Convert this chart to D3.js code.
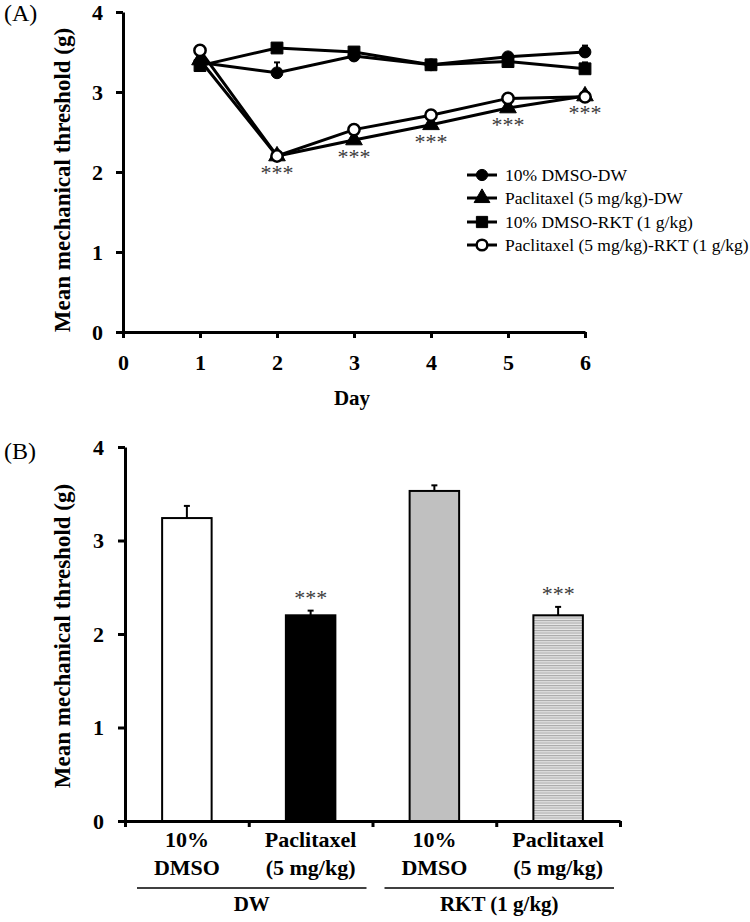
<!DOCTYPE html>
<html><head><meta charset="utf-8">
<script src="https://cdn.jsdelivr.net/npm/d3@7"></script>
<style>
body{margin:0;background:#fff;}
svg{display:block;font-family:"Liberation Serif","Times New Roman",serif;}
</style></head>
<body>
<svg id="chart" width="750" height="922"></svg>
<script>
// ---------- Panel A data ----------
const days = [1, 2, 3, 4, 5, 6];
const dmsoDW = [3.37, 3.24, 3.45, 3.34, 3.44, 3.50];
const dmsoDWErr = [0.03, 0.13, 0.03, 0.03, 0.03, 0.08];
const paclDW = [3.40, 2.20, 2.40, 2.59, 2.80, 2.95];
const paclDWErr = [0.03, 0.03, 0.03, 0.03, 0.03, 0.03];
const dmsoRKT = [3.33, 3.55, 3.50, 3.34, 3.38, 3.29];
const dmsoRKTErr = [0.03, 0.03, 0.03, 0.03, 0.03, 0.08];
const paclRKT = [3.52, 2.20, 2.53, 2.71, 2.92, 2.94];
const paclRKTErr = [0.03, 0.03, 0.03, 0.03, 0.03, 0.03];
const seriesNames = ["10% DMSO-DW", "Paclitaxel (5 mg/kg)-DW", "10% DMSO-RKT (1 g/kg)", "Paclitaxel (5 mg/kg)-RKT (1 g/kg)"];
const sigDays = [2, 3, 4, 5, 6];
const xTicksA = [0, 1, 2, 3, 4, 5, 6];
const yTicks = [0, 1, 2, 3, 4];

// ---------- Panel B data ----------
const barCats = [["10%", "DMSO"], ["Paclitaxel", "(5 mg/kg)"], ["10%", "DMSO"], ["Paclitaxel", "(5 mg/kg)"]];
const barValues = [3.24, 2.20, 3.53, 2.20];
const barErrors = [0.13, 0.05, 0.06, 0.09];
const barSig = [false, true, false, true];
const groupLabels = ["DW", "RKT (1 g/kg)"];

const svg = d3.select("#chart");
const defs = svg.append("defs");
const pat = defs.append("pattern").attr("id", "stripes").attr("patternUnits", "userSpaceOnUse")
  .attr("width", 8).attr("height", 2.5);
pat.append("rect").attr("width", 8).attr("height", 2.5).attr("fill", "#e8e8e8");
pat.append("rect").attr("width", 8).attr("height", 1.1).attr("fill", "#a8a8a8");

function styleAxis(g, sw, fs) {
  g.selectAll("path.domain").attr("stroke", "#000").attr("stroke-width", sw);
  g.selectAll(".tick line").attr("stroke", "#000").attr("stroke-width", sw);
  g.selectAll(".tick text").attr("fill", "#000").attr("font-family", "Liberation Serif, serif")
    .attr("font-weight", "bold").attr("font-size", fs);
}

// ================= Panel A =================
const xA = d3.scaleLinear().domain([0, 6]).range([123, 585]);
const yA = d3.scaleLinear().domain([0, 4]).range([332, 12]);

svg.append("text").attr("x", 4).attr("y", 21).attr("font-size", 24).text("(A)");

const gyA = svg.append("g").attr("transform", "translate(123,0)")
  .call(d3.axisLeft(yA).tickValues(yTicks).tickFormat(d3.format("d")).tickSize(7).tickSizeOuter(0).tickPadding(13));
styleAxis(gyA, 3, 22);
const gxA = svg.append("g").attr("transform", "translate(0,332)")
  .call(d3.axisBottom(xA).tickValues(xTicksA).tickFormat(d3.format("d")).tickSize(6).tickSizeOuter(0).tickPadding(16));
styleAxis(gxA, 3, 22);

svg.append("text").attr("transform", "translate(70,180) rotate(-90)").attr("text-anchor", "middle")
  .attr("font-weight", "bold").attr("font-size", 23).text("Mean mechanical threshold (g)");
svg.append("text").attr("x", 352).attr("y", 405).attr("text-anchor", "middle")
  .attr("font-weight", "bold").attr("font-size", 21).text("Day");

const seriesA = [
  {vals: dmsoDW, err: dmsoDWErr, sym: d3.symbolCircle, size: 110, fill: "#000"},
  {vals: paclDW, err: paclDWErr, sym: d3.symbolTriangle, size: 120, fill: "#000"},
  {vals: dmsoRKT, err: dmsoRKTErr, sym: d3.symbolSquare, size: 140, fill: "#000"},
  {vals: paclRKT, err: paclRKTErr, sym: d3.symbolCircle, size: 100, fill: "#fff"}
];
const line = d3.line().x((d, i) => xA(days[i])).y(d => yA(d));
seriesA.forEach(s => {
  svg.append("path").attr("d", line(s.vals)).attr("fill", "none").attr("stroke", "#000").attr("stroke-width", 3);
});
seriesA.forEach(s => {
  s.vals.forEach((v, i) => {
    const x = xA(days[i]);
    svg.append("line").attr("x1", x).attr("x2", x).attr("y1", yA(v)).attr("y2", yA(v + s.err[i]))
      .attr("stroke", "#000").attr("stroke-width", 2);
    svg.append("line").attr("x1", x - 3).attr("x2", x + 3).attr("y1", yA(v + s.err[i])).attr("y2", yA(v + s.err[i]))
      .attr("stroke", "#000").attr("stroke-width", 2);
  });
});
seriesA.forEach(s => {
  s.vals.forEach((v, i) => {
    svg.append("path").attr("d", d3.symbol().type(s.sym).size(s.size)())
      .attr("transform", `translate(${xA(days[i])},${yA(v)})`)
      .attr("fill", s.fill).attr("stroke", "#000").attr("stroke-width", s.fill === "#fff" ? 2.5 : 1);
  });
});
sigDays.forEach(d => {
  const v = paclDW[days.indexOf(d)];
  svg.append("text").attr("x", xA(d)).attr("y", yA(v) + 24).attr("text-anchor", "middle")
    .attr("font-size", 22).attr("fill", "#3a3a3a").text("***");
});

// legend
const legY = [175, 198, 222, 245];
seriesA.forEach((s, i) => {
  svg.append("line").attr("x1", 467).attr("x2", 497).attr("y1", legY[i]).attr("y2", legY[i])
    .attr("stroke", "#000").attr("stroke-width", 3);
  svg.append("path").attr("d", d3.symbol().type(s.sym).size(s.size * 0.9)())
    .attr("transform", `translate(482,${legY[i]})`)
    .attr("fill", s.fill).attr("stroke", "#000").attr("stroke-width", s.fill === "#fff" ? 2.5 : 1);
  svg.append("text").attr("x", 505).attr("y", legY[i] + 6).attr("font-size", 17.5).text(seriesNames[i]);
});

// ================= Panel B =================
const xB = d3.scaleBand().domain(d3.range(barValues.length)).range([125, 620]).paddingInner(0).paddingOuter(0);
const xBlin = d3.scaleLinear().domain([0, barValues.length]).range([125, 620]);
const yB = d3.scaleLinear().domain([0, 4]).range([821, 447]);

svg.append("text").attr("x", 4).attr("y", 459).attr("font-size", 24).text("(B)");

const fills = ["#fff", "#000", "#c0c0c0", "url(#stripes)"];
const bw = xB.bandwidth() * 0.4;
barValues.forEach((v, i) => {
  const cx = xB(i) + xB.bandwidth() / 2;
  const top = yB(v + barErrors[i]);
  svg.append("line").attr("x1", cx).attr("x2", cx).attr("y1", yB(v)).attr("y2", top)
    .attr("stroke", "#000").attr("stroke-width", 2);
  svg.append("line").attr("x1", cx - 3).attr("x2", cx + 3).attr("y1", top).attr("y2", top)
    .attr("stroke", "#000").attr("stroke-width", 2);
  svg.append("rect").attr("x", cx - bw / 2).attr("y", yB(v)).attr("width", bw).attr("height", yB(0) - yB(v))
    .attr("fill", fills[i]).attr("stroke", "#000").attr("stroke-width", 2);
  if (barSig[i]) {
    svg.append("text").attr("x", cx).attr("y", top - 6).attr("text-anchor", "middle")
      .attr("font-size", 22).attr("fill", "#3a3a3a").text("***");
  }
});

const gyB = svg.append("g").attr("transform", "translate(125,0)")
  .call(d3.axisLeft(yB).tickValues(yTicks).tickFormat(d3.format("d")).tickSize(7).tickSizeOuter(0).tickPadding(14));
styleAxis(gyB, 3, 22);
const gxB = svg.append("g").attr("transform", "translate(0,821)")
  .call(d3.axisBottom(xBlin).tickValues(d3.range(barValues.length + 1)).tickFormat("").tickSize(6).tickSizeOuter(0));
styleAxis(gxB, 3, 22);

svg.append("text").attr("transform", "translate(70,636) rotate(-90)").attr("text-anchor", "middle")
  .attr("font-weight", "bold").attr("font-size", 23).text("Mean mechanical threshold (g)");

barCats.forEach((c, i) => {
  const cx = xB(i) + xB.bandwidth() / 2;
  svg.append("text").attr("x", cx).attr("y", 847).attr("text-anchor", "middle")
    .attr("font-weight", "bold").attr("font-size", 22).text(c[0]);
  svg.append("text").attr("x", cx).attr("y", 875).attr("text-anchor", "middle")
    .attr("font-weight", "bold").attr("font-size", 22).text(c[1]);
});
groupLabels.forEach((g, j) => {
  const x0 = xB(j * 2) + 12, x1 = xB(j * 2 + 1) + xB.bandwidth() - 6;
  svg.append("line").attr("x1", x0).attr("x2", x1).attr("y1", 888).attr("y2", 888)
    .attr("stroke", "#000").attr("stroke-width", 1.5);
  svg.append("text").attr("x", (x0 + x1) / 2).attr("y", 911).attr("text-anchor", "middle")
    .attr("font-weight", "bold").attr("font-size", 21).text(g);
});
</script>
</body></html>
